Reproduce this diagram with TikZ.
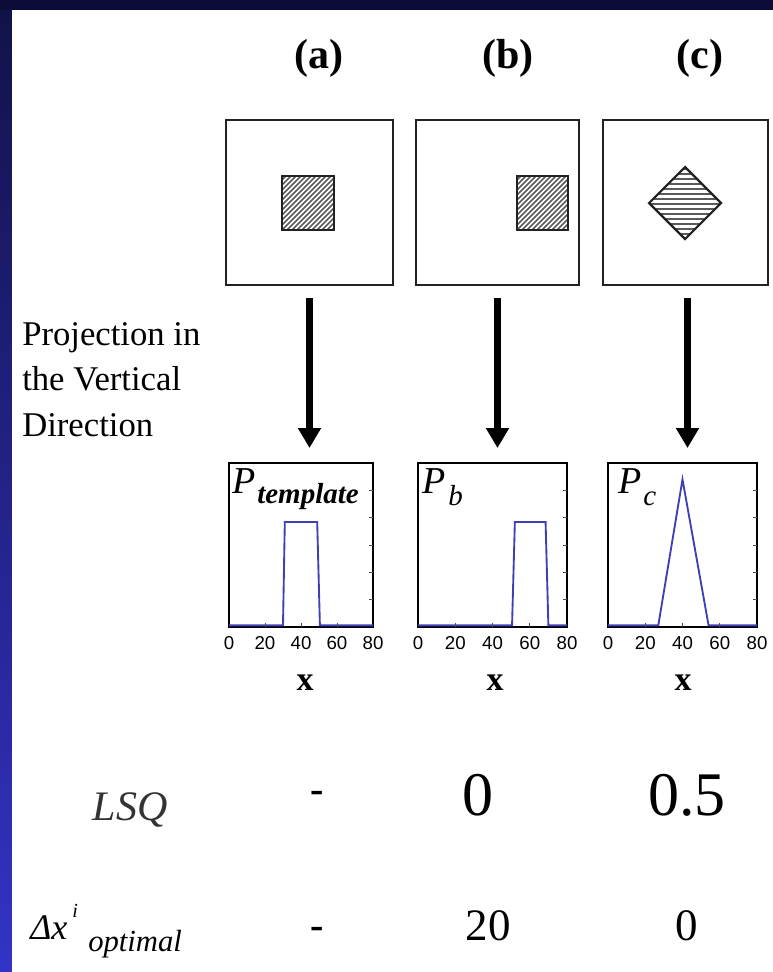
\documentclass[tikz,border=0pt]{standalone}
\usepackage{fontspec}
\setmainfont{Liberation Serif}
\newfontfamily\ticksans{Liberation Sans}
\usetikzlibrary{arrows.meta}
\definecolor{navy}{HTML}{0D0C38}
\definecolor{sidetop}{HTML}{12124A}
\definecolor{sidebot}{HTML}{3333C6}
\definecolor{curvec}{HTML}{4040B4}
\definecolor{boxline}{HTML}{222222}
\definecolor{hatchc}{HTML}{5A5A5A}
\definecolor{lsqgray}{HTML}{333333}
\newcommand{\fs}[1]{\fontsize{#1}{#1}\selectfont}
\newcommand{\drawplot}[3]{%
  \begin{scope}[shift={(#1.south west)}, x=#2pt, y=123pt]
    \draw[curveline] #3;
    \foreach \t in {1,...,5} \draw[tickmark] (80,\t/6) -- ++(-3pt,0pt);
    \foreach \t in {20,40,60} \draw[tickmark] (\t,0) -- ++(0pt,3pt);
    \foreach \t in {0,20,40,60,80} \node[ticklab] (#1t\t) at (\t,0) {\t};
  \end{scope}}
\begin{document}
\begin{tikzpicture}[x=0.75pt,y=-0.75pt,
  lab/.style={font=\bfseries\fs{31.5}, anchor=base, inner sep=0},
  imgbox/.style={draw=boxline, line width=1.9pt, inner sep=0, outer sep=0},
  plotframe/.style={draw=black, line width=1.5pt, inner sep=0, outer sep=0, minimum height=123pt},
  hatch/.style={draw=hatchc, line width=1.1pt},
  shapeline/.style={draw=boxline, line width=1.6pt},
  bigarrow/.style={line width=5.25pt, -{Triangle[length=15pt,width=16.5pt]}, shorten <=9.75pt, shorten >=11.25pt},
  curveline/.style={draw=curvec, line width=1.4pt, line join=miter},
  tickmark/.style={draw=black!70, line width=0.6pt},
  ticklab/.style={font=\ticksans\fs{14}, inner sep=0, anchor=center, yshift=-12pt},
  sidetext/.style={font=\fs{26}, anchor=base west, inner sep=0},
  xlab/.style={font=\bfseries\fs{25.5}, anchor=base, inner sep=0},
  ptext/.style={font=\itshape\fs{28.5}, anchor=base west, inner sep=0},
  psub/.style={font=\itshape\fs{21.75}, anchor=base west, inner sep=0},
  val/.style={anchor=base, inner sep=0},
  dashval/.style={anchor=base, inner sep=0, font=\bfseries\fs{30}}
]
\useasboundingbox (0,0) rectangle (773,972);
% background
\fill[navy] (0,0) rectangle (773,972);
\shade[top color=sidetop, bottom color=sidebot] (0,10) rectangle (12,972);
\fill[white] (12,10) rectangle (773,972);

% column labels
\node[lab] (la) at (319,68) {(a)};
\node[lab] (lb) at (508,68) {(b)};
\node[lab] (lc) at (700,68) {(c)};

% image boxes
\node[imgbox, minimum width=125.25pt, minimum height=123.75pt] (boxa) at (309.5,202.5) {};
\node[imgbox, minimum width=122.25pt, minimum height=123.75pt] (boxb) at (497.5,202.5) {};
\node[imgbox, minimum width=123.75pt, minimum height=123.75pt] (boxc) at (685.5,202.5) {};

% hatched square a
\begin{scope}
  \clip (282,176) rectangle (334,230);
  \foreach \k in {-55,-50,...,55} \draw[hatch] (282+\k,230) -- ++(56,-56);
\end{scope}
\draw[shapeline] (282,176) rectangle (334,230);
% hatched square b
\begin{scope}
  \clip (517,176) rectangle (568,230);
  \foreach \k in {-55,-50,...,55} \draw[hatch] (517+\k,230) -- ++(56,-56);
\end{scope}
\draw[shapeline] (517,176) rectangle (568,230);
% hatched diamond c
\begin{scope}
  \clip (685,167) -- (721,203) -- (685,239) -- (649,203) -- cycle;
  \foreach \k in {169,174,...,239} \draw[hatch] (645,\k) -- (725,\k);
\end{scope}
\draw[shapeline] (685,167) -- (721,203) -- (685,239) -- (649,203) -- cycle;

% side text
\node[sidetext] (pr1) at (22,345) {Projection in};
\node[sidetext] (pr2) at (22,390) {the Vertical};
\node[sidetext] (pr3) at (22,436) {Direction};

% plot frames
\node[plotframe, minimum width=108pt] (plota) at (301,545) {};
\node[plotframe, minimum width=111.75pt] (plotb) at (492.5,545) {};
\node[plotframe, minimum width=111.75pt] (plotc) at (682.5,545) {};

% arrows
\draw[bigarrow] (boxa.south) -- (boxa.south |- plota.north);
\draw[bigarrow] (boxb.south) -- (boxb.south |- plotb.north);
\draw[bigarrow] ([xshift=1.5pt]boxc.south) -- ([xshift=1.5pt]boxc.south |- plotc.north);

% plot contents
\drawplot{plota}{1.35}{(0,0.01) -- (30,0.01) -- (31,0.64) -- (49,0.64) -- (50.5,0.01) -- (80,0.01)}
\drawplot{plotb}{1.396875}{(0,0.01) -- (50.5,0.01) -- (52,0.64) -- (68.5,0.64) -- (70,0.01) -- (80,0.01)}
\drawplot{plotc}{1.396875}{(0,0.01) -- (27,0.01) -- (40,0.9) -- (54,0.01) -- (80,0.01)}

% P labels
\node[ptext] (pa) at (232,493) {P};
\node[psub, font=\bfseries\itshape\fs{21.75}] (pas) at (257,503) {template};
\node[ptext] (pb) at (422,493) {P};
\node[psub] (pbs) at (448,505) {b};
\node[ptext] (pc) at (618,493) {P};
\node[psub] (pcs) at (643,505) {c};

% x labels
\node[xlab] (xa) at (305,690) {x};
\node[xlab] (xb) at (495,690) {x};
\node[xlab] (xc) at (683,690) {x};

% LSQ row
\node[val, font=\itshape\fs{31.5}, text=lsqgray] (lsq) at (130,820) {LSQ};
\node[dashval] (lsqa) at (317,802) {-};
\node[val, font=\fs{46.5}] (lsqb) at (478,815) {0};
\node[val, font=\fs{46.5}] (lsqc) at (687,815) {0.5};

% Delta x row
\node[anchor=base west, inner sep=0, font=\itshape\fs{27}] (dx) at (30,939) {Δx};
\node[anchor=base west, inner sep=0, font=\itshape\fs{15}] (dxi) at (72,917) {i};
\node[anchor=base west, inner sep=0, font=\itshape\fs{23}] (dxo) at (88,951) {optimal};
\node[dashval] (dxa) at (317,938) {-};
\node[val, font=\fs{33.75}] (dxb) at (488,940) {20};
\node[val, font=\fs{33.75}] (dxc) at (687,940) {0};
\end{tikzpicture}
\end{document}
